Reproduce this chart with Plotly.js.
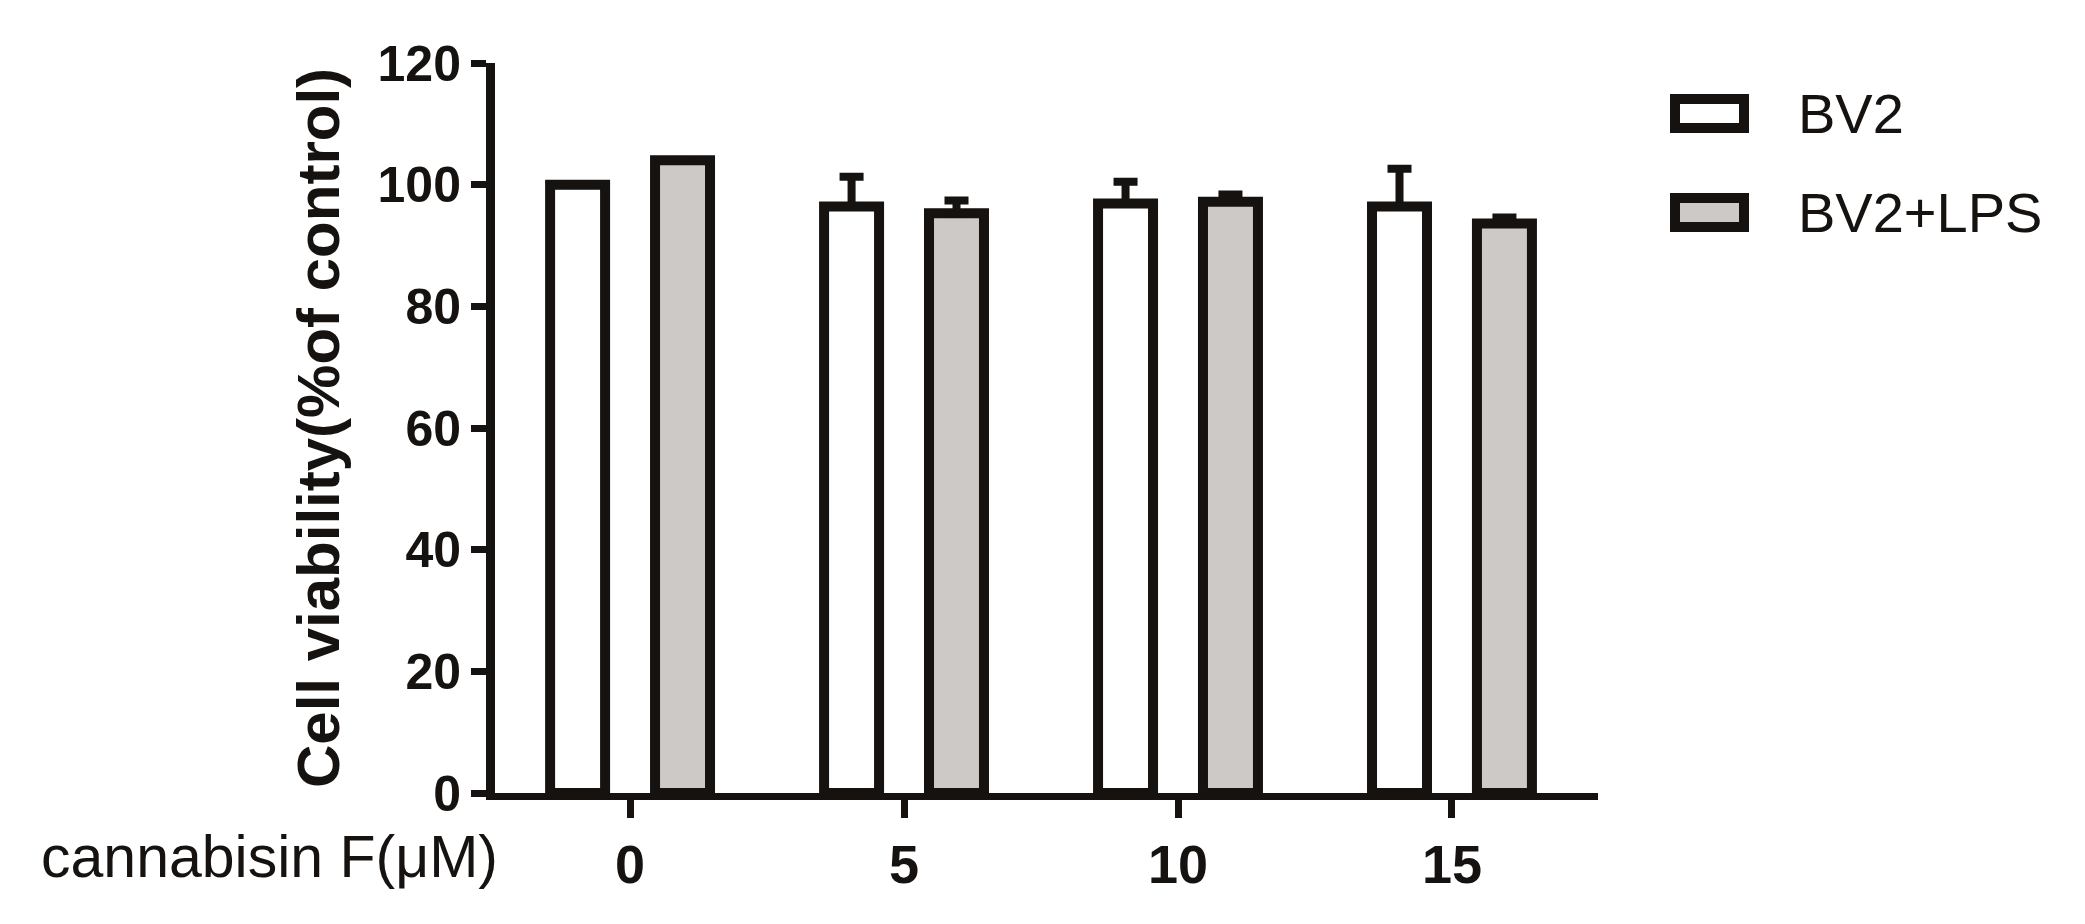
<!DOCTYPE html>
<html>
<head>
<meta charset="utf-8">
<script src="https://cdn.plot.ly/plotly-3.0.1.min.js"></script>
<style>
  html, body { margin: 0; padding: 0; background: #fff; }
  #chart { width: 2085px; height: 924px; }
</style>
</head>
<body>
<div id="chart"></div>
<script>
// --- DATA ---
const doses = ['0', '5', '10', '15'];
const bv2Mean = [100, 96.4, 96.9, 96.4];
const bv2Err = [0, 4.9, 3.6, 6.2];
const lpsMean = [104, 95.3, 97.2, 93.6];
const lpsErr = [0, 2.1, 1.2, 1.0];
const seriesNames = ['BV2', 'BV2+LPS'];

// --- LAYOUT CONSTANTS ---
const W = 2085, H = 924;
const plotLeft = 495, plotRight = 1598, plotTop = 63, plotBottom = 793.5;
const ink = '#151210';
const lpsFill = '#cdc9c6';

// px -> paper coords, for the hand-made legend
const px2x = px => (px - plotLeft) / (plotRight - plotLeft);
const px2y = py => (plotBottom - py) / (plotBottom - plotTop);

function barTrace(name, means, errs, fill) {
    return {
        type: 'bar',
        name: name,
        x: doses.map((d, i) => i),
        y: means,
        marker: { color: fill, line: { color: ink, width: 10 } },
        error_y: {
            type: 'data',
            symmetric: false,
            array: errs,
            arrayminus: errs.map(() => 0),
            color: ink,
            thickness: 8,
            width: 12
        },
        showlegend: false,
        hoverinfo: 'skip'
    };
}

const traces = [
    barTrace(seriesNames[0], bv2Mean, bv2Err, '#ffffff'),
    barTrace(seriesNames[1], lpsMean, lpsErr, lpsFill)
];

// legend swatches (outer box 79x39 px, border 10)
const legendRows = [
    { name: seriesNames[0], fill: '#ffffff', cy: 113.5 },
    { name: seriesNames[1], fill: lpsFill, cy: 212.5 }
];

const shapes = legendRows.map(r => ({
    type: 'rect', xref: 'paper', yref: 'paper',
    x0: px2x(1675), x1: px2x(1744),
    y0: px2y(r.cy + 14.5), y1: px2y(r.cy - 14.5),
    fillcolor: r.fill, line: { color: ink, width: 10 }
}));

const annotations = legendRows.map(r => ({
    xref: 'paper', yref: 'paper',
    x: px2x(1796), y: px2y(r.cy),
    xanchor: 'left', yanchor: 'middle',
    text: r.name, showarrow: false,
    font: { family: 'Liberation Sans, Arial, sans-serif', size: 56, color: ink }
}));

// x axis caption, sits on the tick label baseline
annotations.push({
    xref: 'paper', yref: 'paper',
    x: px2x(500), y: px2y(858),
    xanchor: 'right', yanchor: 'middle',
    text: 'cannabisin F(μM)', showarrow: false,
    font: { family: 'Liberation Sans, Arial, sans-serif', size: 59, color: ink }
});

const layout = {
    width: W,
    height: H,
    margin: { l: plotLeft, r: W - plotRight, t: plotTop, b: H - plotBottom, pad: 0 },
    paper_bgcolor: '#ffffff',
    plot_bgcolor: '#ffffff',
    barmode: 'group',
    bargap: 0.234,
    bargroupgap: 0.476,
    showlegend: false,
    font: { family: 'Liberation Sans, Arial, sans-serif', color: ink },
    xaxis: {
        range: [-0.493, 3.533],
        tickmode: 'array',
        tickvals: doses.map((d, i) => i),
        ticktext: doses,
        showline: true, linecolor: ink, linewidth: 7,
        ticks: 'outside', ticklen: 18, tickwidth: 7, tickcolor: ink,
        tickfont: { family: 'Liberation Sans, Arial, sans-serif', size: 54, color: ink, weight: 'bold' },
        showgrid: false, zeroline: false, fixedrange: true
    },
    yaxis: {
        range: [0, 120],
        tickvals: [0, 20, 40, 60, 80, 100, 120],
        showline: true, linecolor: ink, linewidth: 9,
        ticks: 'outside', ticklen: 15, tickwidth: 7, tickcolor: ink,
        tickfont: { family: 'Liberation Sans, Arial, sans-serif', size: 50, color: ink, weight: 'bold' },
        title: {
            text: 'Cell viability(%of control)',
            standoff: 22,
            font: { family: 'Liberation Sans, Arial, sans-serif', size: 60, color: ink, weight: 'bold' }
        },
        showgrid: false, zeroline: false, fixedrange: true
    },
    shapes: shapes,
    annotations: annotations
};

Plotly.newPlot('chart', traces, layout, { staticPlot: true, displayModeBar: false });
</script>
</body>
</html>
